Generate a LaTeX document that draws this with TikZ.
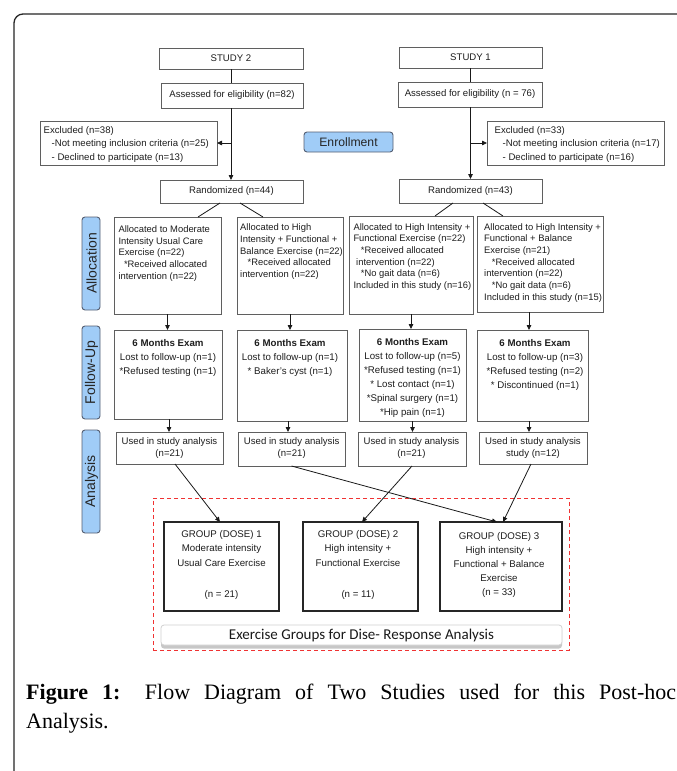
\documentclass[tikz,border=0pt]{standalone}
\usepackage{fontspec}
\setmainfont{Liberation Sans}
\newfontfamily\capfont{Liberation Serif}
\newfontfamily\calfont{Carlito}
\usetikzlibrary{arrows.meta,calc}
\definecolor{boxline}{RGB}{95,95,95}
\definecolor{txt}{RGB}{30,30,30}
\definecolor{sidefill}{RGB}{160,204,247}
\definecolor{sideline}{RGB}{85,95,115}
\definecolor{reddash}{RGB}{240,50,50}
\tikzset{
 box/.style={draw=boxline, line width=0.9pt, inner sep=0pt, outer sep=0pt, anchor=north west, fill=white, text=txt, font=\fontsize{9.6}{11.6}\selectfont},
 grp/.style={draw=black!85, line width=2pt, inner sep=0pt, outer sep=0pt, anchor=north west},
 side/.style={draw=sideline, fill=sidefill, rounded corners=3pt, line width=0.9pt, inner sep=0pt, outer sep=0pt, anchor=north west},
 arr/.style={-{Triangle[length=5pt,width=4.5pt]}, line width=0.8pt, black!90},
 ln/.style={line width=0.8pt, black!90},
 exc/.style={font=\fontsize{9.6}{13.3}\selectfont, text=txt, align=left, inner sep=0pt, anchor=base west},
 alloc/.style={font=\fontsize{9.4}{11.65}\selectfont, text=txt, align=left, inner sep=0pt, anchor=base west},
 mtxt/.style={font=\fontsize{9.7}{14}\selectfont, text=txt, align=center, inner sep=0pt, anchor=base},
 utxt/.style={font=\fontsize{9.6}{11.7}\selectfont, text=txt, align=center, inner sep=0pt, anchor=base},
 gtxt/.style={font=\fontsize{9.7}{14.2}\selectfont, text=txt, align=center, inner sep=0pt, anchor=base},
 sidetxt/.style={font=\fontsize{14}{16}\selectfont, text=black!85, rotate=90, inner sep=0pt}
}
\begin{document}
\begin{tikzpicture}[x=1pt,y=-1pt]
\useasboundingbox (0,0) rectangle (677,771);
\fill[white] (0,0) rectangle (677,771);
% outer frame
\draw[line width=1.3pt, black!85, rounded corners=9pt] (14,14) rectangle (720,820);

% top boxes
\node[box, minimum width=144pt, minimum height=21pt] (S2) at (159,48) {STUDY 2};
\node[box, minimum width=143pt, minimum height=21pt] (S1) at (399,47) {STUDY 1};
\node[box, minimum width=142pt, minimum height=25pt] (E2) at (161,83) {Assessed for eligibility (n=82)};
\node[box, minimum width=144pt, minimum height=25pt] (E1) at (398,82) {Assessed for eligibility (n = 76)};
\node[box, minimum width=177pt, minimum height=44pt] (X2) at (40,121) {};
\node[box, minimum width=177pt, minimum height=44pt] (X1) at (487,121) {};
\node[exc] (X2t) at (43.5,160.2) {Excluded (n=38)\\\hspace*{8pt}-Not meeting inclusion criteria (n=25)\\\hspace*{8pt}- Declined to participate (n=13)};
\node[exc] (X1t) at (494.5,160.2) {Excluded (n=33)\\\hspace*{8pt}-Not meeting inclusion criteria (n=17)\\\hspace*{8pt}- Declined to participate (n=16)};
\node[side, minimum width=89pt, minimum height=20pt] (Enr) at (304,132) {};
\node[font=\fontsize{12.2}{14}\selectfont, text=black!85] (Enrt) at (Enr.center) {Enrollment};
\node[box, minimum width=143pt, minimum height=23pt] (R2) at (160,180) {Randomized (n=44)};
\node[box, minimum width=143pt, minimum height=24pt] (R1) at (399,179) {Randomized (n=43)};

% top connectors
\draw[ln] (S2.south) -- (S2.south |- E2.north);
\draw[ln] (S1.south) -- (S1.south |- E1.north);
\draw[arr] (S2.south |- E2.south) -- (S2.south |- R2.north);
\draw[arr] (S1.south |- E1.south) -- (S1.south |- R1.north);
\coordinate (b2) at (S2.south |- X2.east);
\coordinate (b1) at (S1.south |- X1.west);
\draw[arr] (b2) -- (X2.east);
\draw[arr] (b1) -- (X1.west);

% side labels
\node[side, minimum width=18pt, minimum height=93pt] (L1) at (82,217) {};
\node[side, minimum width=18pt, minimum height=93pt] (L2) at (82,326) {};
\node[side, minimum width=18pt, minimum height=103pt] (L3) at (82,430) {};
\node[sidetxt] (L1t) at ([xshift=0.5pt]L1.center) {Allocation};
\node[sidetxt] (L2t) at ([xshift=0.5pt]L2.center) {Follow-Up};
\node[sidetxt] (L3t) at ([xshift=0.5pt]L3.center) {Analysis};

% allocation boxes
\node[box, minimum width=107pt, minimum height=97pt] (A1) at (114,217) {};
\node[box, minimum width=106pt, minimum height=97pt] (A2) at (237,217) {};
\node[box, minimum width=124pt, minimum height=98pt] (A3) at (349,216) {};
\node[box, minimum width=126pt, minimum height=96pt] (A4) at (477,216) {};
\node[alloc] (A1t) at (118.3,279.1) {Allocated to Moderate\\Intensity Usual Care\\Exercise (n=22)\\\hspace*{5.5pt}*Received allocated\\intervention (n=22)};
\node[alloc] (A2t) at (240,277.4) {Allocated to High\\Intensity + Functional +\\Balance Exercise (n=22)\\\hspace*{7.5pt}*Received allocated\\intervention (n=22)};
\node[alloc] (A3t) at (353.3,288.45) {Allocated to High Intensity +\\Functional Exercise (n=22)\\\hspace*{7.4pt}*Received allocated\\\hspace*{2.7pt}intervention (n=22)\\\hspace*{7.4pt}*No gait data (n=6)\\Included in this study (n=16)};
\node[alloc] (A4t) at (484,300.1) {Allocated to High Intensity +\\Functional + Balance\\Exercise (n=21)\\\hspace*{7.7pt}*Received allocated\\intervention (n=22)\\\hspace*{7.7pt}*No gait data (n=6)\\Included in this study (n=15)};

\draw[ln] ([xshift=-11.5pt]R2.south) -- ([xshift=30.5pt]A1.north);
\draw[ln] ([xshift=8.5pt]R2.south) -- ([xshift=-27pt]A2.north);
\draw[ln] ([xshift=-17.5pt]R1.south) -- ([xshift=24pt]A3.north);
\draw[ln] ([xshift=12.5pt]R1.south) -- ([xshift=-37pt]A4.north);

% follow-up boxes
\node[box, minimum width=108pt, minimum height=89pt] (M1) at (114,330) {};
\node[box, minimum width=110pt, minimum height=91pt] (M2) at (237,330) {};
\node[box, minimum width=107pt, minimum height=92pt] (M3) at (359,329) {};
\node[box, minimum width=111pt, minimum height=91pt] (M4) at (477,330) {};
\node[mtxt] (M1t) at (168,374.8) {\textbf{6 Months Exam}\\Lost to follow-up (n=1)\\*Refused testing (n=1)};
\node[mtxt] (M2t) at (290,374.8) {\textbf{6 Months Exam}\\Lost to follow-up (n=1)\\* Baker’s cyst (n=1)};
\node[mtxt] (M3t) at (412.5,415.9) {\textbf{6 Months Exam}\\Lost to follow-up (n=5)\\*Refused testing (n=1)\\* Lost contact (n=1)\\*Spinal surgery (n=1)\\*Hip pain (n=1)};
\node[mtxt] (M4t) at (535,388.2) {\textbf{6 Months Exam}\\Lost to follow-up (n=3)\\*Refused testing (n=2)\\* Discontinued (n=1)};

\draw[arr] (A1.south) -- (A1.south |- M1.north);
\draw[arr] (A2.south) -- (A2.south |- M2.north);
\draw[arr] (A3.south) -- (A3.south |- M3.north);
\draw[arr] ([xshift=-3.5pt]M4.north |- A4.south) -- ([xshift=-3.5pt]M4.north);

% used boxes
\node[box, minimum width=107pt, minimum height=32pt] (U1) at (116,432) {};
\node[box, minimum width=107pt, minimum height=34pt] (U2) at (238,432) {};
\node[box, minimum width=108pt, minimum height=34pt] (U3) at (358,432) {};
\node[box, minimum width=108pt, minimum height=32pt] (U4) at (479,432) {};
\node[utxt] (U1t) at (169.5,456.1) {Used in study analysis\\(n=21)};
\node[utxt] (U2t) at (291.7,456.1) {Used in study analysis\\(n=21)};
\node[utxt] (U3t) at (411.5,456.1) {Used in study analysis\\(n=21)};
\node[utxt] (U4t) at (533,456.1) {Used in study analysis\\study (n=12)};

\draw[arr] ([xshift=1pt]M1.south) -- ([xshift=1pt]M1.south |- U1.north);
\draw[arr] ([xshift=-4pt]M2.south) -- ([xshift=-4pt]M2.south |- U2.north);
\draw[arr] (M3.south) -- (M3.south |- U3.north);
\draw[arr] ([xshift=-3.5pt]M4.south) -- ([xshift=-3.5pt]M4.south |- U4.north);

% dashed frame
\node[draw=reddash, dash pattern=on 4pt off 3pt, line width=1pt, inner sep=0pt, outer sep=0pt, anchor=north west, minimum width=416pt, minimum height=152pt] (D) at (153,498) {};

% group boxes
\node[grp, minimum width=115pt, minimum height=89pt] (G1) at (164,522) {};
\node[grp, minimum width=115pt, minimum height=89pt] (G2) at (303,522) {};
\node[grp, minimum width=122pt, minimum height=89pt] (G3) at (440,522) {};
\node[gtxt] (G1t) at (221.5,597.7) {GROUP (DOSE) 1\\Moderate intensity\\Usual Care Exercise\\[17.4pt](n = 21)};
\node[gtxt] (G2t) at (358,597.7) {GROUP (DOSE) 2\\High intensity +\\Functional Exercise\\[17.4pt](n = 11)};
\node[gtxt] (G3t) at (499,595.9) {GROUP (DOSE) 3\\High intensity +\\Functional + Balance\\Exercise\\(n = 33)};

\draw[arr] ([xshift=5.5pt]U1.south) -- ([xshift=-1.5pt]G1.north);
\draw[arr] (U2.south) -- ([xshift=-4pt]G3.north);
\draw[arr] (U3.south) -- ([xshift=1.5pt]G2.north);
\draw[arr] ([xshift=-2pt]U4.south) -- ([xshift=2pt]G3.north);

% label box with shadow
\fill[black!22, rounded corners=3pt] (161,627) rectangle (562,648.5);
\node[draw=black!18, fill=white, rounded corners=3pt, line width=0.8pt, inner sep=0pt, outer sep=0pt, anchor=north west, minimum width=401pt, minimum height=20pt] (Lab) at (161,625) {};
\node[font=\calfont\fontsize{15}{18}\selectfont, text=black!90] (Labt) at (Lab.center) {Exercise Groups for Dise- Response Analysis};

% caption
\node[anchor=base west, inner sep=0pt, text width=650pt, align=justify, font=\capfont\fontsize{22}{29}\selectfont, text=black] (cap) at (26,699) {\textbf{Figure 1:} Flow Diagram of Two Studies used for this Post-hoc\linebreak Analysis.};
\end{tikzpicture}
\end{document}
